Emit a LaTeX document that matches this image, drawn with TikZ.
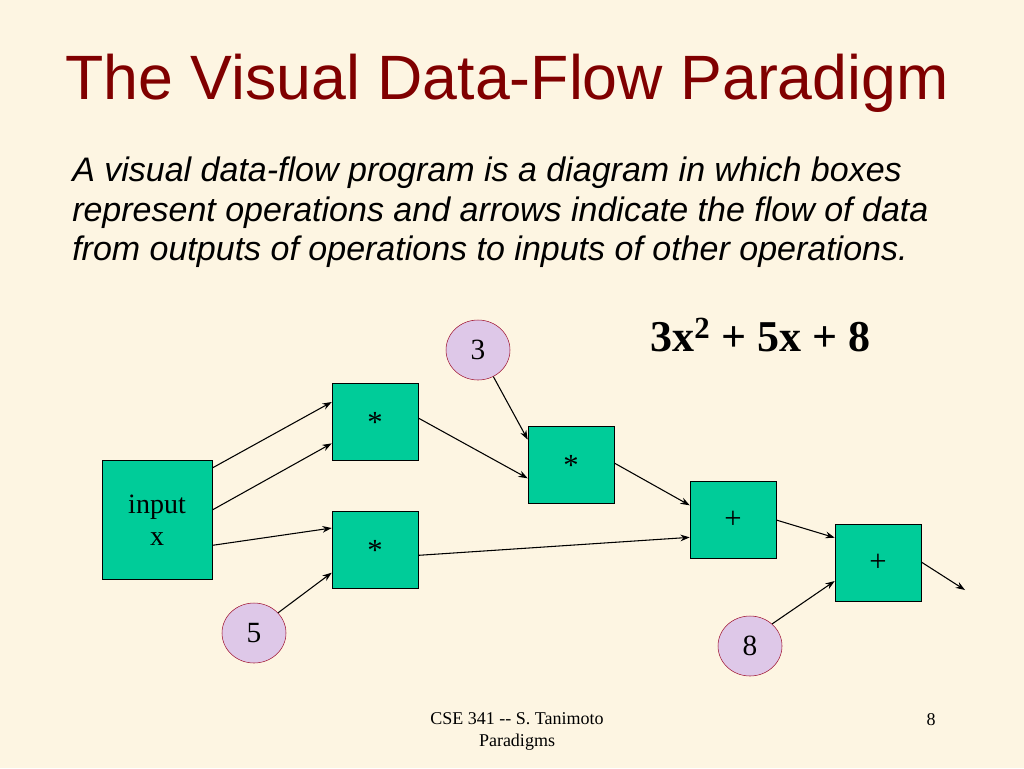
\documentclass[tikz,border=0pt]{standalone}
\usepackage{fontspec}
\setmainfont{Liberation Serif}
\setsansfont{Liberation Sans}
\usetikzlibrary{arrows.meta, positioning}
\usetikzlibrary{shapes.geometric}
\definecolor{slidebg}{RGB}{253,245,226}
\definecolor{titlered}{RGB}{128,0,0}
\definecolor{opgreen}{RGB}{0,204,153}
\definecolor{constfill}{RGB}{222,200,232}
\definecolor{constline}{RGB}{160,20,50}
\tikzset{
  opbox/.style={draw=black, fill=opgreen, minimum width=64.5pt, minimum height=58pt, inner sep=0pt, font=\fontsize{23}{25}\selectfont},
  constnode/.style={ellipse, draw=constline, fill=constfill, minimum width=48pt, minimum height=45pt, inner sep=0pt, font=\fontsize{22}{24}\selectfont},
  flow/.style={-{Stealth[length=7pt,width=5pt]}, line width=0.8pt}
}
\begin{document}
\begin{tikzpicture}[x=0.75pt,y=0.75pt,yscale=-1,xscale=1]
\fill[slidebg] (0,0) rectangle (1024,768);
\useasboundingbox (0,0) rectangle (1024,768);

% Title and text
\node (title) [font=\sffamily\fontsize{47}{54}\selectfont, text=titlered] at (507,83) {The Visual Data-Flow Paradigm};
\node (intro) [anchor=north west, align=left, inner sep=0pt, font=\sffamily\itshape\fontsize{25.5}{29.5}\selectfont] at (72,157)
  {A visual data-flow program is a diagram in which boxes\\represent operations and arrows indicate the flow of data\\from outputs of operations to inputs of other operations.};
\node (formula) [anchor=west, inner sep=0pt, font=\bfseries\fontsize{33}{38}\selectfont] at (650,335) {3x\textsuperscript{2} + 5x + 8};

% Operation boxes
\node (in) [opbox, minimum width=82.5pt, minimum height=89pt, align=center, font=\fontsize{21}{24}\selectfont] at (157,520) {input\\x};
\node (mulA) [opbox] at (375,422) {*};
\node (mulB) [opbox] at (375,550) {*};
\node (mulC) [opbox] at (571,465) {*};
\node (addA) [opbox] at (733,520) {+};
\node (addB) [opbox] at (878,563) {+};

% Constants
\node (three) [constnode] at (478,350) {3};
\node (five) [constnode] at (254,633) {5};
\node (eight) [constnode] at (750,646) {8};
\coordinate (out) at (965,590);

% Flow arrows
\draw[flow] ([yshift=-39pt]in.east) -- ([yshift=-15pt]mulA.west);
\draw[flow] ([yshift=-7.5pt]in.east) -- ([yshift=16pt]mulA.west);
\draw[flow] ([yshift=19pt]in.east) -- ([yshift=-16.5pt]mulB.west);
\draw[flow] (five.40) -- ([yshift=17pt]mulB.west);
\draw[flow] ([yshift=-3pt]mulA.east) -- ([yshift=10pt]mulC.west);
\draw[flow] (three.-60) -- ([yshift=-19pt]mulC.west);
\draw[flow] ([yshift=-1.5pt]mulC.east) -- ([yshift=-11pt]addA.west);
\draw[flow] ([yshift=4pt]mulB.east) -- ([yshift=13pt]addA.west);
\draw[flow] (addA.east) -- ([yshift=-19pt]addB.west);
\draw[flow] (eight.45) -- ([yshift=13.5pt]addB.west);
\draw[flow] ([yshift=-0.75pt]addB.east) -- (out);

% Footer
\node (footer) [align=center, font=\fontsize{13.5}{16.5}\selectfont] at (517,731) {CSE 341 -{}- S. Tanimoto\\Paradigms};
\node (page) [font=\fontsize{13.5}{16.5}\selectfont] at (931,720) {8};
\end{tikzpicture}
\end{document}
